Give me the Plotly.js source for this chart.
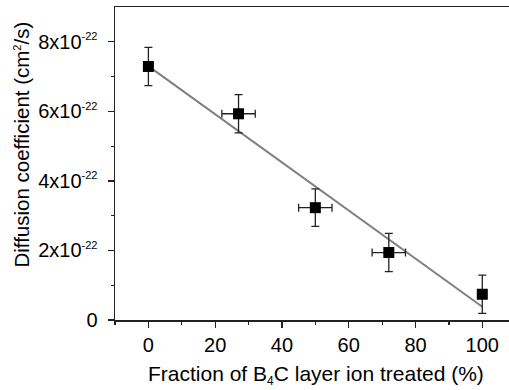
<!DOCTYPE html>
<html>
<head>
<meta charset="utf-8">
<script src="https://cdn.plot.ly/plotly-3.0.1.min.js"></script>
<style>html,body{margin:0;padding:0;background:#fff;}#chart{width:509px;height:390px;}</style>
</head>
<body>
<div id="chart"></div>
<script>
// Data (D in units of cm^2/s)
const fractionTreated = [0, 27, 50, 72, 100];
const diffusionCoeff = [7.29e-22, 5.93e-22, 3.23e-22, 1.94e-22, 0.74e-22];
const diffusionErr = [0.55e-22, 0.55e-22, 0.54e-22, 0.55e-22, 0.55e-22];
const fractionErr = [0, 5, 5, 5, 0];
const fitX = [0, 100];
const fitY = [7.30e-22, 0.38e-22];
const yTickVals = [0, 2e-22, 4e-22, 6e-22, 8e-22];
const yTickMantissa = ['0', '2', '4', '6', '8'];
const yTickExponent = '-22';
const xTickVals = [0, 20, 40, 60, 80, 100];

const font = 'Liberation Sans, Arial, sans-serif';
const sup = s => '<sup><span style="font-size:11px">' + s + '</span></sup>';
const sub = s => '<sub><span style="font-size:12px">' + s + '</span></sub>';
const yTickText = yTickMantissa.map(m => m === '0' ? '0' : m + 'x10' + sup(yTickExponent));

const traces = [
  {
    x: fitX, y: fitY, type: 'scatter', mode: 'lines',
    line: {color: '#808080', width: 2}, hoverinfo: 'skip'
  },
  {
    x: fractionTreated, y: diffusionCoeff, type: 'scatter', mode: 'markers',
    marker: {symbol: 'square', size: 11, color: '#000'},
    error_y: {type: 'data', array: diffusionErr, visible: true, color: '#222', thickness: 1.3, width: 4},
    error_x: {type: 'data', array: fractionErr, visible: true, color: '#222', thickness: 1.3, width: 4}
  }
];

const W = 394.3, H = 313.3;
const layout = {
  width: 509, height: 390,
  margin: {l: 114.7, r: 0, t: 6.7, b: 70, pad: 0},
  paper_bgcolor: '#fff', plot_bgcolor: '#fff',
  showlegend: false,
  font: {family: font, color: '#000', size: 20},
  xaxis: {
    range: [-10, 108], tickvals: xTickVals, ticks: 'outside', ticklen: 6, tickwidth: 1.3,
    tickcolor: '#222', showline: true, linecolor: '#222', linewidth: 1.5, mirror: true,
    showgrid: false, zeroline: false, tickfont: {size: 20, family: font},
    minor: {dtick: 10, tick0: 0, ticks: 'outside', ticklen: 3, tickcolor: '#222', tickwidth: 1.2, showgrid: false}
  },
  yaxis: {
    range: [0, 9e-22], tickvals: yTickVals, ticktext: yTickText, ticks: 'outside', ticklen: 6, tickwidth: 1.3,
    tickcolor: '#222', showline: true, linecolor: '#222', linewidth: 1.5, mirror: false,
    showgrid: false, zeroline: false, tickfont: {size: 20, family: font}, ticklabelstandoff: 6,
    minor: {tickvals: [1e-22, 3e-22, 5e-22, 7e-22], ticks: 'outside', ticklen: 3, tickcolor: '#222', tickwidth: 1.2, showgrid: false}
  },
  annotations: [
    {
      text: 'Fraction of B' + sub('4') + 'C layer ion treated (%)', xref: 'paper', yref: 'paper',
      x: (315.5 - 114.7) / W, y: (320 - 375) / H, xanchor: 'center', yanchor: 'middle',
      showarrow: false, font: {size: 21, family: font, color: '#000'}
    },
    {
      text: 'Diffusion coefficient (cm' + sup('2') + '/s)', xref: 'paper', yref: 'paper',
      x: (21 - 114.7) / W, y: (320 - 144) / H, xanchor: 'center', yanchor: 'middle', textangle: -90,
      showarrow: false, font: {size: 20.5, family: font, color: '#000'}
    }
  ]
};

Plotly.newPlot('chart', traces, layout, {staticPlot: true, displayModeBar: false});
</script>
</body>
</html>
